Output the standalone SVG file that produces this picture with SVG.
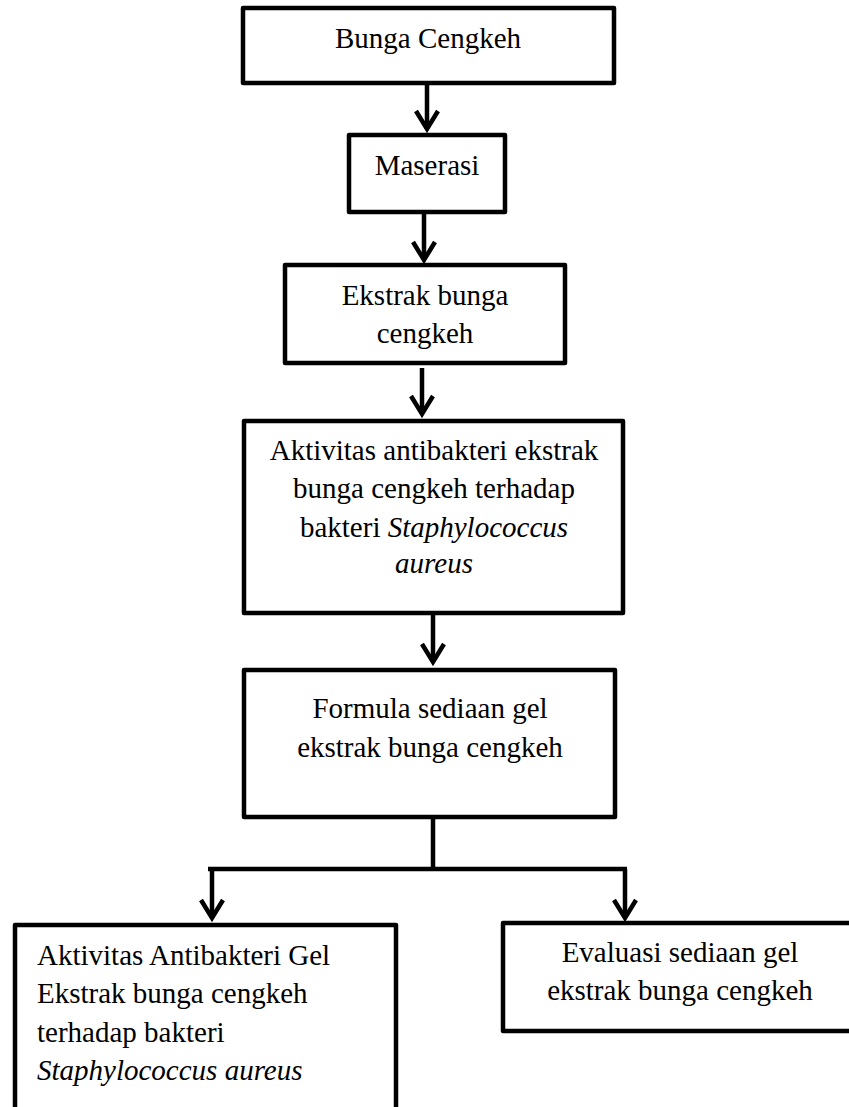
<svg xmlns="http://www.w3.org/2000/svg" width="849" height="1107" viewBox="0 0 849 1107">
  <style>
    .box { fill: #ffffff; stroke: #000000; stroke-width: 4.5; stroke-linejoin: round; }
    .lbl { font-family: "Liberation Serif", "Times New Roman", serif; font-size: 29px; fill: #000000; }
    .c { text-anchor: middle; }
    .it { font-style: italic; }
    .conn { fill: none; stroke: #000000; stroke-width: 4.5; }
  </style>
  <defs>
    <marker id="arr" markerUnits="userSpaceOnUse" markerWidth="40" markerHeight="40" refX="20" refY="12" orient="auto" overflow="visible">
      <path d="M 2 1 L 20 12 L 2 23" fill="none" stroke="#000000" stroke-width="4.5" stroke-linejoin="miter"/>
    </marker>
  </defs>
  <rect width="849" height="1107" fill="#ffffff"/>

  <g id="connectors">
    <path class="conn" d="M 427 83 L 427 129" marker-end="url(#arr)"/>
    <path class="conn" d="M 424 212 L 424 260" marker-end="url(#arr)"/>
    <path class="conn" d="M 422 368 L 422 414" marker-end="url(#arr)"/>
    <path class="conn" d="M 433 614 L 433 662" marker-end="url(#arr)"/>
    <path class="conn" d="M 433 819 L 433 869"/>
    <path class="conn" d="M 208 869 L 627 869"/>
    <path class="conn" d="M 212 869 L 212 918" marker-end="url(#arr)"/>
    <path class="conn" d="M 625 869 L 625 918" marker-end="url(#arr)"/>
  </g>

  <g id="node-bunga-cengkeh">
    <rect class="box" x="243" y="8" width="371" height="75"/>
    <text class="lbl c" x="428" y="48">Bunga Cengkeh</text>
  </g>

  <g id="node-maserasi">
    <rect class="box" x="349" y="135" width="156" height="77"/>
    <text class="lbl c" x="427" y="175">Maserasi</text>
  </g>

  <g id="node-ekstrak">
    <rect class="box" x="285" y="265" width="280" height="98"/>
    <text class="lbl c" x="425" y="305">Ekstrak bunga</text>
    <text class="lbl c" x="425" y="343">cengkeh</text>
  </g>

  <g id="node-aktivitas-ekstrak">
    <rect class="box" x="244" y="421" width="379" height="192"/>
    <text class="lbl c" x="434" y="460">Aktivitas antibakteri ekstrak</text>
    <text class="lbl c" x="434" y="498">bunga cengkeh terhadap</text>
    <text class="lbl c" x="434" y="537">bakteri <tspan class="it">Staphylococcus</tspan></text>
    <text class="lbl c it" x="434" y="573">aureus</text>
  </g>

  <g id="node-formula">
    <rect class="box" x="244" y="670" width="371" height="147"/>
    <text class="lbl c" x="430" y="718">Formula sediaan gel</text>
    <text class="lbl c" x="430" y="757">ekstrak bunga cengkeh</text>
  </g>

  <g id="node-aktivitas-gel">
    <rect class="box" x="15" y="925" width="381" height="200"/>
    <text class="lbl" x="37" y="965">Aktivitas Antibakteri Gel</text>
    <text class="lbl" x="37" y="1003">Ekstrak bunga cengkeh</text>
    <text class="lbl" x="37" y="1042">terhadap bakteri</text>
    <text class="lbl it" x="37" y="1080">Staphylococcus aureus</text>
  </g>

  <g id="node-evaluasi">
    <rect class="box" x="503" y="923" width="360" height="108"/>
    <text class="lbl c" x="680" y="962">Evaluasi sediaan gel</text>
    <text class="lbl c" x="680" y="1000">ekstrak bunga cengkeh</text>
  </g>
</svg>
